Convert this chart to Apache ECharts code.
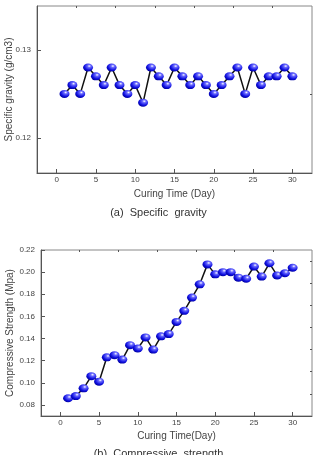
<!DOCTYPE html>
<html>
<head>
<meta charset="utf-8">
<script src="https://cdn.jsdelivr.net/npm/echarts@6/dist/echarts.min.js"></script>
<style>
  html, body { margin: 0; padding: 0; background: #fff; }
  #chart { width: 317px; height: 455px; }
</style>
</head>
<body>
<div id="chart"></div>
<script>
// curing days 1..30
const days = [1,2,3,4,5,6,7,8,9,10,11,12,13,14,15,16,17,18,19,20,21,22,23,24,25,26,27,28,29,30];

// (a) specific gravity (g/cm3)
const gravity = [0.125,0.126,0.125,0.128,0.127,0.126,0.128,0.126,0.125,0.126,
                 0.124,0.128,0.127,0.126,0.128,0.127,0.126,0.127,0.126,0.125,
                 0.126,0.127,0.128,0.125,0.128,0.126,0.127,0.127,0.128,0.127];

// (b) compressive strength (Mpa)
const strength = [0.086,0.088,0.095,0.106,0.101,0.123,0.125,0.121,0.134,0.131,
                  0.141,0.130,0.142,0.144,0.155,0.165,0.177,0.189,0.207,0.198,
                  0.200,0.200,0.195,0.194,0.205,0.196,0.208,0.197,0.199,0.204];

const xMajor = [0,5,10,15,20,25,30];
const xMinor = [2.5,7.5,12.5,17.5,22.5,27.5];
const gMajor = [0.12,0.13];
const gMinor = [0.125];
const sMajor = [0.08,0.10,0.12,0.14,0.16,0.18,0.20,0.22];
const sMinor = [0.09,0.11,0.13,0.15,0.17,0.19,0.21];

const FONT = 'Liberation Sans';
const txt = '#444';

const ball = {
    type: 'radial', x: 0.62, y: 0.32, r: 0.7,
    colorStops: [
        {offset: 0, color: '#ffffff'},
        {offset: 0.25, color: '#6a6aff'},
        {offset: 0.7, color: '#1010e0'},
        {offset: 1, color: '#0000a0'}
    ]
};

const mkX = (gi, withLabels, name, gap, ticks, len, line) => ({
    type: 'value', gridIndex: gi, min: -2.5, max: 32.5,
    name: name, nameLocation: 'middle', nameGap: gap, nameMoveOverlap: false,
    nameTextStyle: {color: txt, fontFamily: FONT, fontSize: 10},
    axisLine: {show: line, onZero: false, lineStyle: {color: '#555', width: 1}},
    axisTick: {show: true, inside: true, length: len, customValues: ticks, lineStyle: {color: '#555'}},
    axisLabel: {show: withLabels, customValues: xMajor, margin: 3, fontSize: 8, color: txt, fontFamily: FONT},
    splitLine: {show: false}
});

const mkY = (gi, min, max, major, name, gap, withLabels, ticks, len, line) => ({
    type: 'value', gridIndex: gi, min: min, max: max,
    name: name, nameLocation: 'middle', nameGap: gap, nameMoveOverlap: false,
    nameTextStyle: {color: txt, fontFamily: FONT, fontSize: 10},
    axisLine: {show: line, onZero: false, lineStyle: {color: '#555', width: 1}},
    axisTick: {show: true, inside: true, length: len, customValues: ticks, lineStyle: {color: '#555'}},
    axisLabel: {show: withLabels, customValues: major, margin: 6, fontSize: 8, color: txt, fontFamily: FONT,
                formatter: v => v.toFixed(2)},
    splitLine: {show: false}
});

const chart = echarts.init(document.getElementById('chart'));
chart.setOption({
    backgroundColor: '#fff',
    animation: false,
    grid: [
        {left: 37, top: 6, right: 5, height: 167, show: true, borderColor: '#888', borderWidth: 1,
         backgroundColor: 'transparent', containLabel: false, outerBoundsMode: 'none'},
        {left: 41, top: 250, right: 5, height: 166, show: true, borderColor: '#888', borderWidth: 1,
         backgroundColor: 'transparent', containLabel: false, outerBoundsMode: 'none'}
    ],
    xAxis: [
        mkX(0, true, 'Curing Time (Day)', 16, xMajor, 4, true),
        mkX(1, true, 'Curing Time(Day)', 15, xMajor, 4, true),
        mkX(0, false, '', 0, xMinor, 2, false),
        mkX(1, false, '', 0, xMinor, 2, false)
    ],
    yAxis: [
        mkY(0, 0.116, 0.135, gMajor, 'Specific gravity (g/cm3)', 23, true, gMajor, 4, true),
        mkY(1, 0.07, 0.22, sMajor, 'Compressive Strength (Mpa)', 26, true, sMajor, 4, true),
        mkY(0, 0.116, 0.135, gMajor, '', 0, false, gMinor, 2, false),
        mkY(1, 0.07, 0.22, sMajor, '', 0, false, sMinor, 2, false)
    ],
    series: [
        {
            type: 'line', xAxisIndex: 0, yAxisIndex: 0,
            data: days.map((d, i) => [d, gravity[i]]),
            symbol: 'circle', symbolSize: [10, 8], showSymbol: true,
            lineStyle: {color: '#111', width: 1.5},
            itemStyle: {color: ball, borderWidth: 0}
        },
        {
            type: 'line', xAxisIndex: 1, yAxisIndex: 1,
            data: days.map((d, i) => [d, strength[i]]),
            symbol: 'circle', symbolSize: [10, 8], showSymbol: true,
            lineStyle: {color: '#111', width: 1.5},
            itemStyle: {color: ball, borderWidth: 0}
        }
    ],
    graphic: [
        {type: 'text', left: 'center', top: 207, style: {text: '(a)  Specific  gravity', fill: '#333', font: '11px ' + FONT}},
        {type: 'text', left: 'center', top: 448, style: {text: '(b)  Compressive  strength', fill: '#333', font: '11px ' + FONT}}
    ]
});
window.addEventListener('resize', () => {
    chart.resize();
});
</script>
</body>
</html>
